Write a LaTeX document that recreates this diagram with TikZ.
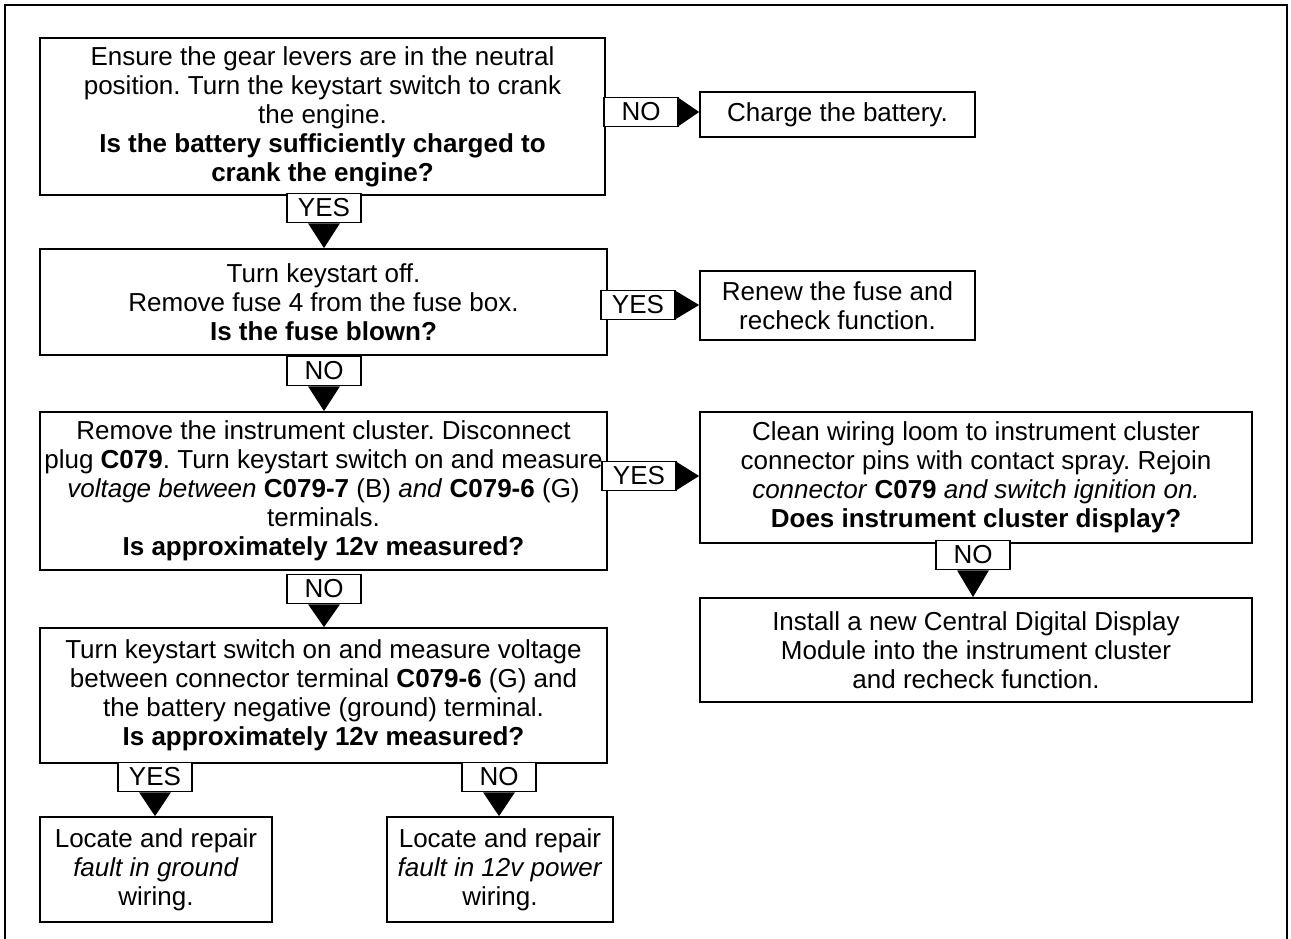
\documentclass[tikz,border=0pt]{standalone}
\usepackage{fontspec}
\setmainfont{Liberation Sans}
\frenchspacing
\begin{document}
\begin{tikzpicture}[x=1pt,y=-1pt,
  every node/.style={font=\fontsize{26}{29}\selectfont},
  box/.style={draw, line width=1.8pt, align=center, inner sep=0pt, fill=white},
  tag/.style={draw, line width=1.5pt, fill=white, minimum width=74pt,
              minimum height=29pt, inner sep=0pt},
  tip/.style={fill=black}
]
\useasboundingbox (0,0) rectangle (1291,939);
% page frame
\draw[line width=2.4pt] (5,939) -- (5,5) -- (1287,5) -- (1287,939);

% main column
\node[box, minimum width=565pt, minimum height=157pt] (b1) at (322.5,116.5)
  {Ensure the gear levers are in the neutral\\
   position. Turn the keystart switch to crank\\
   the engine.\\
   \textbf{Is the battery sufficiently charged to}\\
   \textbf{crank the engine?}};
\node[box, minimum width=567pt, minimum height=106pt] (b2) at (323.5,302)
  {Turn keystart off.\\
   Remove fuse 4 from the fuse box.\\
   \textbf{Is the fuse blown?}};
\node[box, minimum width=567pt, minimum height=158pt] (b3) at (323.5,491)
  {Remove the instrument cluster. Disconnect\\
   plug \textbf{C079}. Turn keystart switch on and measure\\
   \textit{voltage between} \textbf{C079-7} (B) \textit{and} \textbf{C079-6} (G)\\
   terminals.\\
   \textbf{Is approximately 12v measured?}};
\node[box, minimum width=567pt, minimum height=135pt] (b4) at (323.5,695.5)
  {Turn keystart switch on and measure voltage\\
   between connector terminal \textbf{C079-6} (G) and\\
   the battery negative (ground) terminal.\\
   \textbf{Is approximately 12v measured?}};
\node[box, minimum width=232pt, minimum height=105pt] (b5) at (156,869.5)
  {Locate and repair\\ \textit{fault in ground}\\ wiring.};
\node[box, minimum width=226pt, minimum height=105pt] (b6) at (500,869.5)
  {Locate and repair\\ \textit{fault in 12v power}\\ wiring.};

% right column
\node[box, minimum width=275pt, minimum height=45pt] (charge) at (837.5,114.5)
  {Charge the battery.};
\node[box, minimum width=275pt, minimum height=69pt] (renew) at (837.5,305.5)
  {Renew the fuse and\\ recheck function.};
\node[box, minimum width=552pt, minimum height=131pt] (clean) at (976,477.5)
  {Clean wiring loom to instrument cluster\\
   connector pins with contact spray. Rejoin\\
   \textit{connector} \textbf{C079} \textit{and switch ignition on.}\\
   \textbf{Does instrument cluster display?}};
\node[box, minimum width=552pt, minimum height=104pt] (install) at (976,650)
  {Install a new Central Digital Display\\
   Module into the instrument cluster\\
   and recheck function.};

% answer tags
\node[tag] (t1) at (641,112) {NO};
\node[tag] (t2) at (324,208) {YES};
\node[tag] (t3) at (638,305) {YES};
\node[tag] (t4) at (324,371) {NO};
\node[tag] (t5) at (639,476) {YES};
\node[tag] (t6) at (324,589) {NO};
\node[tag] (t7) at (973,555) {NO};
\node[tag] (t8) at (155,777) {YES};
\node[tag] (t9) at (499,777) {NO};

% arrow heads: sideways
\fill[tip] ([yshift=14pt]t1.east) -- ([yshift=-14pt]t1.east) -- (t1.east -| charge.west) -- cycle;
\fill[tip] ([yshift=14pt]t3.east) -- ([yshift=-14pt]t3.east) -- (t3.east -| renew.west) -- cycle;
\fill[tip] ([yshift=14pt]t5.east) -- ([yshift=-14pt]t5.east) -- (t5.east -| clean.west) -- cycle;
% arrow heads: downwards
\fill[tip] ([xshift=-16pt]t2.south) -- ([xshift=16pt]t2.south) -- (t2.south |- b2.north) -- cycle;
\fill[tip] ([xshift=-16pt]t4.south) -- ([xshift=16pt]t4.south) -- (t4.south |- b3.north) -- cycle;
\fill[tip] ([xshift=-16pt]t6.south) -- ([xshift=16pt]t6.south) -- (t6.south |- b4.north) -- cycle;
\fill[tip] ([xshift=-16pt]t7.south) -- ([xshift=16pt]t7.south) -- (t7.south |- install.north) -- cycle;
\fill[tip] ([xshift=-16pt]t8.south) -- ([xshift=16pt]t8.south) -- (t8.south |- b5.north) -- cycle;
\fill[tip] ([xshift=-16pt]t9.south) -- ([xshift=16pt]t9.south) -- (t9.south |- b6.north) -- cycle;
\end{tikzpicture}
\end{document}
